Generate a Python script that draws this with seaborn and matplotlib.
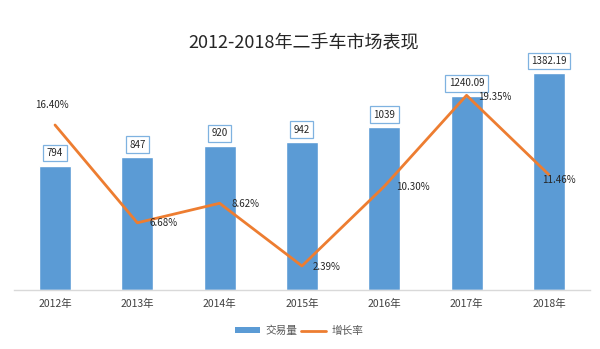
import numpy as np
import pandas as pd
import matplotlib
matplotlib.use("Agg")
import matplotlib.pyplot as plt
import seaborn as sns
from matplotlib.patches import Patch
from matplotlib.lines import Line2D

years = ["2012年", "2013年", "2014年", "2015年", "2016年", "2017年", "2018年"]
volume = [794, 847, 920, 942, 1039, 1240.09, 1382.19]
volume_labels = ["794", "847", "920", "942", "1039", "1240.09", "1382.19"]
growth = [16.40, 6.68, 8.62, 2.39, 10.30, 19.35, 11.46]
growth_labels = ["16.40%", "6.68%", "8.62%", "2.39%", "10.30%", "19.35%", "11.46%"]

title = "2012-2018年二手车市场表现"
legend_names = ["交易量", "增长率"]

sns.set_theme(style="white")
plt.rcParams["font.family"] = ["Noto Sans CJK SC", "DejaVu Sans"]

BLUE = "#5B9BD5"
ORANGE = "#ED7D31"

fig = plt.figure(figsize=(6.0, 3.49), dpi=100)
ax = fig.add_axes([0.0231, 0.1691, 0.9603, 0.6734])

df = pd.DataFrame({"year": years, "volume": volume})
sns.barplot(data=df, x="year", y="volume", color=BLUE, saturation=1,
            width=0.39, ax=ax)
ax.set_xlim(-0.5, 6.5)
ax.set_ylim(0, 1500)

ax2 = ax.twinx()
xpos = np.arange(len(years))
sns.lineplot(x=xpos, y=growth, color=ORANGE, linewidth=2.0, ax=ax2)
ax2.set_ylim(0, 23.36)
ax2.set_xlim(-0.5, 6.5)

for a in (ax, ax2):
    a.set_ylabel("")
    a.set_xlabel("")
    a.set_yticks([])
    for s in ("top", "right", "left"):
        a.spines[s].set_visible(False)
ax2.spines["bottom"].set_visible(False)
ax.spines["bottom"].set_color("#D9D9D9")
ax.spines["bottom"].set_linewidth(1.0)

ax.tick_params(axis="x", length=0, pad=6.5, labelsize=7.5, labelcolor="#404040")

# bar value labels in boxes
for i, (v, lab) in enumerate(zip(volume, volume_labels)):
    ax.annotate(lab, xy=(i, v), xytext=(0, 9), textcoords="offset points",
                ha="center", va="center", fontsize=7, color="#262626",
                bbox=dict(boxstyle="square,pad=0.35", fc="white",
                          ec="#7FB2E0", lw=0.9), zorder=5)

# growth labels
offsets = [(-2.5, 14.5, "center"), (8.5, 0, "left"), (8.5, -0.7, "left"),
           (8.0, -0.7, "left"), (8.5, -0.7, "left"), (8.0, -1.4, "left"),
           (7.5, -3.5, "center")]
for i, (g, lab) in enumerate(zip(growth, growth_labels)):
    dx, dy, ha = offsets[i]
    ax2.annotate(lab, xy=(i, g), xytext=(dx, dy), textcoords="offset points",
                 ha=ha, va="center", fontsize=7, color="#262626", zorder=6)

fig.text(303.5 / 600, 1 - 42 / 349, title, ha="center", va="center",
         fontsize=13, color="#262626")

handles = [Patch(facecolor=BLUE, edgecolor="none"),
           Line2D([0], [0], color=ORANGE, lw=2.0)]
fig.legend(handles, legend_names, loc="center",
           bbox_to_anchor=(299 / 600, 1 - 331 / 349), ncol=2, frameon=False,
           fontsize=7.7, labelcolor="#595959", handlelength=2.4,
           handleheight=0.5, handletextpad=0.5, columnspacing=0.3)

fig.savefig("out.png", dpi=100)
